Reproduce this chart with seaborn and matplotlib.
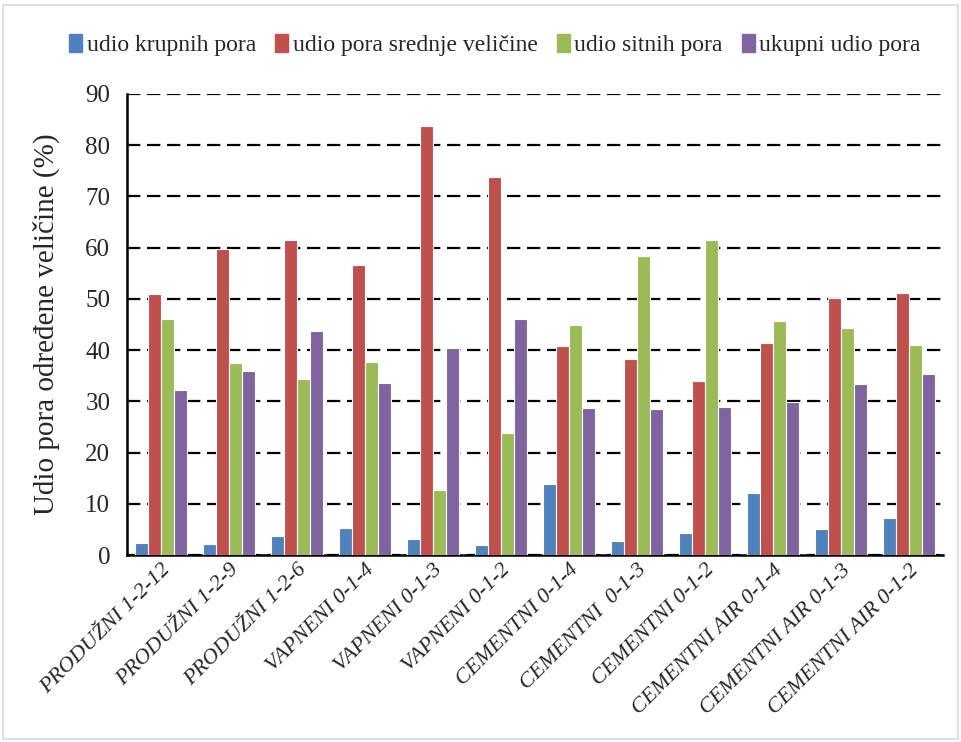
import pandas as pd
import numpy as np
import matplotlib
matplotlib.use("Agg")
import matplotlib.pyplot as plt
import seaborn as sns
from matplotlib.patches import Rectangle

# === Data ===
samples = ["PRODUŽNI 1-2-12", "PRODUŽNI 1-2-9", "PRODUŽNI 1-2-6",
           "VAPNENI 0-1-4", "VAPNENI 0-1-3", "VAPNENI 0-1-2",
           "CEMENTNI 0-1-4", "CEMENTNI  0-1-3", "CEMENTNI 0-1-2",
           "CEMENTNI AIR 0-1-4", "CEMENTNI AIR 0-1-3", "CEMENTNI AIR 0-1-2"]
krupne = [2.4, 2.2, 3.7, 5.2, 3.2, 2.0, 13.8, 2.8, 4.2, 12.1, 5.0, 7.3]
srednje = [51.0, 59.7, 61.4, 56.7, 83.8, 73.7, 40.9, 38.2, 33.9, 41.4, 50.2, 51.1]
sitne = [46.0, 37.5, 34.4, 37.6, 12.7, 23.9, 44.9, 58.4, 61.4, 45.6, 44.3, 41.0]
ukupno = [32.2, 36.0, 43.7, 33.5, 40.5, 46.0, 28.7, 28.5, 28.9, 29.9, 33.4, 35.4]

series = ["udio krupnih pora", "udio pora srednje veličine",
          "udio sitnih pora", "ukupni udio pora"]
colors = ["#4F81BD", "#C0504D", "#9BBB59", "#8064A2"]

# long form table for seaborn
df = pd.DataFrame({"uzorak": samples * 4,
                   "serija": np.repeat(series, len(samples)),
                   "udio": krupne + srednje + sitne + ukupno})

sns.set_style("white")
plt.rcParams["font.family"] = ["Liberation Serif", "DejaVu Serif"]

fig = plt.figure(figsize=(9.61, 7.42), dpi=100)
ax = fig.add_axes([127 / 961, 1 - 555 / 742, (943 - 127) / 961, (555 - 94) / 742])

sns.barplot(data=df, x="uzorak", y="udio", hue="serija", palette=colors,
            saturation=1, width=0.76, edgecolor="white", linewidth=0.8,
            ax=ax, legend=False, zorder=3)

ax.set_ylim(0, 90)
ax.set_xlim(-0.5, 11.5)
ax.set_yticks(range(0, 91, 10))
ax.yaxis.grid(True, linestyle=(0, (6, 3)), color="black", linewidth=1.6, zorder=0)
ax.set_axisbelow(True)
for s in ["top", "right"]:
    ax.spines[s].set_visible(False)
for s in ["left", "bottom"]:
    ax.spines[s].set_color("black")
    ax.spines[s].set_linewidth(1.8)

ax.tick_params(axis="y", labelsize=18, length=0, pad=12)
ax.tick_params(axis="x", length=0, pad=4)
ax.set_xticks(range(len(samples)))
ax.set_xticklabels(samples, rotation=45, ha="right", rotation_mode="anchor",
                   fontsize=16, style="italic")
ax.set_xlabel("")
ax.set_ylabel("Udio pora određene veličine (%)", fontsize=21, labelpad=18)

# legend at top
handles = [Rectangle((0, 0), 1, 1, color=c) for c in colors]
fig.legend(handles, series, loc="center", bbox_to_anchor=(0.515, 1 - 45 / 742),
           ncol=4, frameon=False, fontsize=17, handlelength=0.55, handleheight=0.8,
           handletextpad=0.2, columnspacing=0.8)

# light frame around the chart
fig.patches.append(Rectangle((3 / 961, 3 / 742), 1 - 6 / 961, 1 - 8 / 742,
                             transform=fig.transFigure, fill=False,
                             edgecolor="#d9d9d9", linewidth=1.2))

fig.savefig("out.png", dpi=100)
